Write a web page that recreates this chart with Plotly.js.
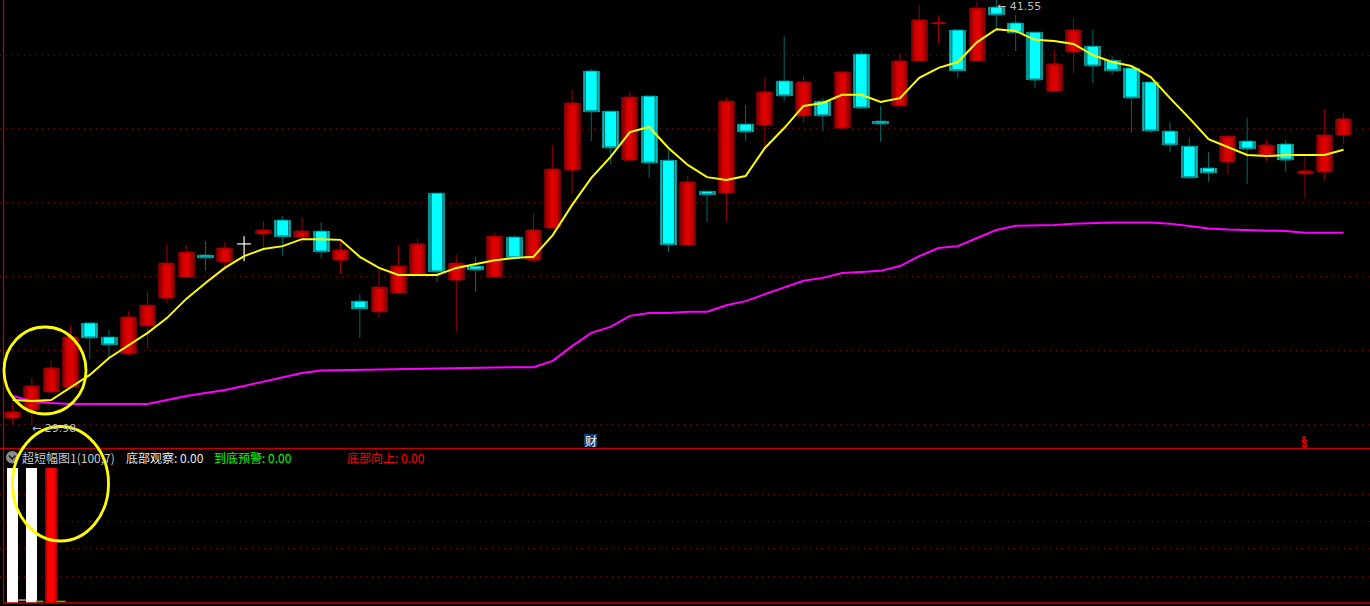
<!DOCTYPE html>
<html>
<head>
<meta charset="utf-8">
<script src="https://cdn.plot.ly/plotly-3.0.1.min.js"></script>
<style>html,body{margin:0;padding:0;background:#000;overflow:hidden}#c{width:1370px;height:606px}</style>
</head>
<body>
<div id="c"></div>
<script>
const opens=[30.16,30.38,30.87,31.00,32.74,32.36,31.90,32.66,33.41,33.98,
34.58,34.39,null,35.15,35.53,35.07,35.23,34.44,33.33,33.04,
33.55,34.04,36.26,33.90,34.28,33.98,35.07,34.44,35.31,36.88,
39.57,38.48,37.15,38.89,37.15,34.85,36.31,36.26,38.13,38.10,
39.30,38.35,38.75,38.02,40.03,38.21,38.62,39.84,40.85,40.68,
39.84,41.30,40.87,40.62,39.02,40.08,40.24,39.86,39.65,39.27,
37.94,37.53,36.94,37.10,37.67,37.26,37.59,36.78,36.83,37.83];
const closes=[30.33,31.03,31.52,32.36,32.33,32.14,32.90,33.22,34.36,34.66,
34.50,34.77,null,35.26,35.07,35.23,34.66,34.72,33.12,33.71,
34.28,34.88,34.12,34.36,34.17,35.09,34.50,35.26,36.91,38.70,
38.46,37.48,38.86,37.07,34.85,36.56,36.21,38.75,37.91,39.00,
38.89,39.27,38.35,39.54,38.56,38.13,39.84,40.95,40.88,39.57,
41.27,41.08,40.60,39.32,39.76,40.68,39.70,39.57,38.83,37.94,
37.56,36.67,36.80,37.80,37.45,37.56,37.15,36.86,37.83,38.27];
const highs=[30.57,31.25,31.73,32.66,32.74,32.55,33.06,33.60,34.88,34.85,
34.96,34.93,null,35.50,35.64,35.61,35.47,34.96,33.52,34.23,
34.85,35.04,36.26,34.58,34.53,35.18,35.12,35.72,37.56,39.05,
39.62,38.48,39.02,38.89,37.43,36.72,36.31,38.86,38.64,39.38,
40.51,39.43,38.83,39.54,40.11,38.62,40.03,41.35,41.08,40.70,
41.44,41.55,41.08,40.62,40.14,41.00,40.68,39.97,39.65,39.27,
38.18,37.75,37.37,37.83,38.29,37.72,37.70,37.24,38.54,38.43];
const lows=[30.00,29.98,30.84,30.98,31.76,31.82,31.87,32.03,33.28,33.96,
34.15,34.23,null,34.77,34.55,34.88,34.50,34.07,32.33,32.87,
33.55,34.04,33.85,32.49,33.58,33.96,34.44,34.44,35.31,36.23,
37.67,37.05,37.15,36.67,34.66,34.85,35.47,35.50,37.67,37.51,
38.75,38.18,37.94,37.99,38.54,37.64,38.62,39.84,40.30,39.38,
39.84,40.68,40.11,39.11,39.00,39.51,39.24,39.46,37.89,37.89,
37.37,36.67,36.56,36.75,36.50,37.13,36.83,36.10,36.61,37.59];
// the one white doji (flat open/close), index 12
const dojiIndex=12, dojiPrice=34.88, dojiHigh=35.09, dojiLow=34.42;
const maShort=[30.65,30.62,30.65,30.98,31.33,31.79,32.14,32.47,32.87,33.39,
33.82,34.23,34.55,34.74,34.82,35.01,35.01,34.99,34.53,34.23,
34.04,34.04,34.04,34.23,34.34,34.44,34.50,34.53,35.12,35.93,
36.67,37.24,37.91,38.05,37.48,37.02,36.69,36.61,36.72,37.48,
38.02,38.62,38.70,38.92,38.92,38.73,38.83,39.38,39.65,39.81,
40.35,40.70,40.65,40.41,40.38,40.30,40.00,39.81,39.70,39.40,
38.83,38.29,37.72,37.51,37.29,37.26,37.29,37.29,37.29,37.43];
const maLong=[30.76,30.62,30.57,30.54,30.54,30.54,30.54,30.54,30.65,30.76,
30.84,30.92,31.03,31.14,31.25,31.38,31.45,31.46,31.48,31.49,
31.49,31.50,31.52,31.52,31.52,31.53,31.54,31.54,31.71,32.11,
32.47,32.63,32.93,33.01,33.01,33.04,33.04,33.22,33.33,33.52,
33.69,33.88,33.96,34.09,34.12,34.15,34.28,34.55,34.77,34.82,
35.04,35.26,35.37,35.37,35.39,35.43,35.45,35.46,35.46,35.46,
35.43,35.37,35.30,35.27,35.26,35.26,35.23,35.18,35.18,35.18];
const whiteBarIdx=[0,1], whiteBarVal=[100,100];
const redBarIdx=[2], redBarVal=[100];
const greenLineIdx=[1.19,1.6,null,2.28,2.75], greenLineVal=[1.2,1.2,null,1.2,1.2];
const whiteLineIdx=[0.3,0.7], whiteLineVal=[2.2,2.2];
const priceTicks=[30,32,34,36,38,40];
const indicatorTicks=[20,40,60,80];

const W=1370,H=606;
const px=x=>x/W, py=y=>1-y/H;
const idx=opens.map((_,i)=>i);
const XR=[-12.6/19.29,(W-12.6)/19.29];
const traces=[];
function layered(xs,bases,heights,layers,yaxis){
  layers.forEach(l=>traces.push({type:'bar',x:xs,y:heights,base:bases,width:l[0],yaxis:yaxis,
    marker:{color:l[1],line:{width:0}},hoverinfo:'skip',showlegend:false}));
}
const up=idx.filter(i=>opens[i]!==null&&closes[i]>=opens[i]);
const dn=idx.filter(i=>opens[i]!==null&&closes[i]<opens[i]);
const REDL=[[0.88,'#700000'],[0.78,'#880000'],[0.66,'#a20000'],[0.54,'#ba0000'],[0.42,'#cc0000'],[0.26,'#dc0000']];
const CYANL=[[0.88,'#009494'],[0.76,'#00b8b8'],[0.56,'#00ffff']];
layered(up,up.map(i=>opens[i]),up.map(i=>closes[i]-opens[i]),REDL,'y');
layered(dn,dn.map(i=>closes[i]),dn.map(i=>opens[i]-closes[i]),CYANL,'y');
traces.push({type:'candlestick',x:idx,open:opens,high:highs,low:lows,close:closes,whiskerwidth:0,
  increasing:{line:{color:'#a00000',width:1},fillcolor:'rgba(0,0,0,0)'},
  decreasing:{line:{color:'#006a6a',width:1},fillcolor:'rgba(0,0,0,0)'},showlegend:false,hoverinfo:'skip'});
// white doji cross
traces.push({type:'scatter',mode:'lines',x:[dojiIndex,dojiIndex,null,dojiIndex-0.36,dojiIndex+0.36],
  y:[dojiLow,dojiHigh,null,dojiPrice,dojiPrice],line:{color:'#fff',width:1.2},showlegend:false,hoverinfo:'skip'});
traces.push({type:'scatter',mode:'lines',x:idx,y:maLong,line:{color:'#ff00ff',width:2},showlegend:false,hoverinfo:'skip'});
traces.push({type:'scatter',mode:'lines',x:idx,y:maShort,line:{color:'#ffff00',width:2},showlegend:false,hoverinfo:'skip'});
// indicator panel
traces.push({type:'bar',x:whiteBarIdx,y:whiteBarVal,width:0.58,yaxis:'y2',marker:{color:'#fff',line:{width:0}},showlegend:false,hoverinfo:'skip'});
layered(redBarIdx,[0],redBarVal,[[0.68,'#800000'],[0.6,'#a00000'],[0.52,'#c80000'],[0.44,'#f00000'],[0.34,'#ff0000']],'y2');
traces.push({type:'scatter',mode:'lines',x:greenLineIdx,y:greenLineVal,yaxis:'y2',line:{color:'#00e000',width:1.5},showlegend:false,hoverinfo:'skip'});
traces.push({type:'scatter',mode:'lines',x:whiteLineIdx,y:whiteLineVal,yaxis:'y2',line:{color:'#fff',width:1},showlegend:false,hoverinfo:'skip'});

const dotGrid={showgrid:true,gridcolor:'#701212',griddash:'1px,5px',gridwidth:1,zeroline:false,showline:false,
  showticklabels:false,ticks:'',tickmode:'array'};
const CJK='"Noto Sans CJK SC","Liberation Sans",sans-serif';
const head=(t,x,c)=>({xref:'paper',yref:'paper',x:px(x-2),y:py(457),xanchor:'left',yanchor:'middle',text:t,showarrow:false,
  font:{family:CJK,size:12,color:c}});
const yellowCircle=(l,t,r,b)=>({type:'circle',xref:'paper',yref:'paper',x0:px(l),x1:px(r),y0:py(t),y1:py(b),
  line:{color:'#ffff00',width:2.8},fillcolor:'rgba(0,0,0,0)',layer:'above'});
const hline=(y,x0)=>({type:'line',xref:'paper',yref:'paper',x0:px(x0),x1:1,y0:py(y),y1:py(y),line:{color:'#c00000',width:1.4},layer:'above'});
const layout={
  width:W,height:H,margin:{l:0,r:0,t:0,b:0,pad:0},paper_bgcolor:'#000',plot_bgcolor:'#000',
  barmode:'overlay',bargap:0,boxgap:0.12,boxmode:'overlay',showlegend:false,dragmode:false,hovermode:false,
  xaxis:{range:XR,domain:[0,1],showgrid:false,zeroline:false,showticklabels:false,ticks:'',showline:false,rangeslider:{visible:false},anchor:'y2',fixedrange:true},
  yaxis:Object.assign({domain:[1-448/H,1],range:[30-24*0.0271,30+424*0.0271],tickvals:priceTicks,anchor:'x',fixedrange:true},dotGrid),
  yaxis2:Object.assign({domain:[0,1-449/H],range:[-2.2,114],tickvals:indicatorTicks,anchor:'x',fixedrange:true},dotGrid),
  shapes:[
    {type:'rect',xref:'paper',yref:'paper',x0:px(584),x1:px(597),y0:py(434),y1:py(447),fillcolor:'#0b3a6e',line:{width:0},layer:'above'},
    hline(448.5,0),hline(603,3),
    {type:'line',xref:'paper',yref:'paper',x0:px(3.5),x1:px(3.5),y0:py(0),y1:py(603),line:{color:'#c00000',width:1.2},layer:'above'},
    {type:'circle',xref:'paper',yref:'paper',x0:px(6),x1:px(18.5),y0:py(451),y1:py(463.5),fillcolor:'#8c8c8c',line:{width:0},layer:'above'},
    {type:'path',xref:'paper',yref:'paper',path:`M ${px(9)} ${py(455.5)} L ${px(12.2)} ${py(459)} L ${px(15.4)} ${py(455.5)}`,line:{color:'#222',width:1.6},layer:'above'},
    {type:'path',xref:'paper',yref:'paper',path:`M ${px(1301.5)} ${py(438.5)} L ${px(1304)} ${py(435.5)} L ${px(1306.5)} ${py(438.5)} Z`,fillcolor:'#f00000',line:{width:0},layer:'above'},
    yellowCircle(4,327,86,414),
    yellowCircle(12.5,426.5,108.5,541)
  ],
  annotations:[
    {x:1,y:29.98,xref:'x',yref:'y',xanchor:'left',yanchor:'middle',xshift:-2,yshift:-4,text:'← 29.98',showarrow:false,font:{family:'"DejaVu Sans",sans-serif',size:11,color:'#bdbdbd'}},
    {x:51,y:py(7),xref:'x',yref:'paper',xanchor:'left',yanchor:'middle',xshift:-1,text:'← 41.55',showarrow:false,font:{family:'"DejaVu Sans",sans-serif',size:11,color:'#bdbdbd'}},
    {xref:'paper',yref:'paper',x:px(590.5),y:py(440.5),xanchor:'center',yanchor:'middle',text:'财',showarrow:false,
      font:{family:CJK,size:12,color:'#fff'}},
    {xref:'paper',yref:'paper',x:px(1304),y:py(443.5),xanchor:'center',yanchor:'middle',text:'<b>$</b>',showarrow:false,font:{family:'"Liberation Sans",sans-serif',size:11,color:'#f00000'}},
    head('超短幅图1(100,7)',22,'#c8c8c8'),
    head('底部观察: 0.00',126,'#e8e8e8'),
    head('到底预警: 0.00',214,'#00ff00'),
    head('底部向上: 0.00',347,'#ff0000')
  ]
};
Plotly.newPlot('c',traces,layout,{displayModeBar:false,staticPlot:true});
</script>
</body>
</html>
